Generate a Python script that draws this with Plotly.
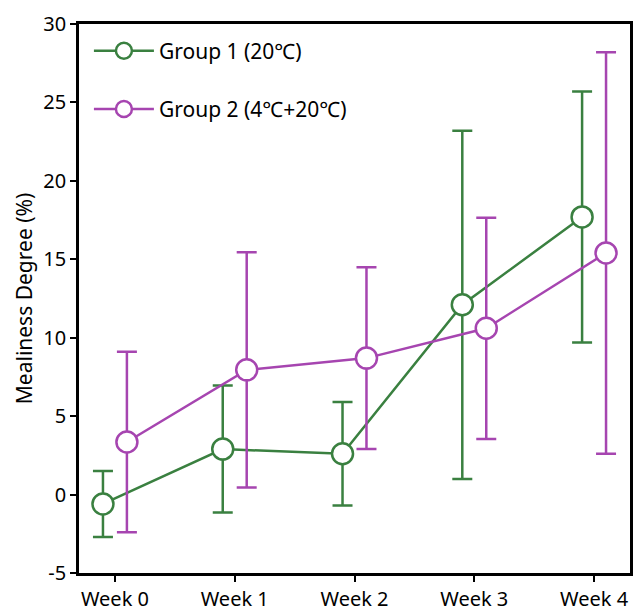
import plotly.graph_objects as go

weeks = ["Week 0", "Week 1", "Week 2", "Week 3", "Week 4"]
g1_mean = [-0.6, 2.9, 2.6, 12.1, 17.7]
g1_err = [2.1, 4.05, 3.3, 11.1, 8.0]
g2_mean = [3.35, 7.95, 8.7, 10.6, 15.4]
g2_err = [5.75, 7.5, 5.8, 7.05, 12.8]
y_ticks = [-5, 0, 5, 10, 15, 20, 25, 30]
y_labels = ["-5", "0", "5", "10", "15", "20", "25", "30"]

green = "#3A8040"
purple = "#A645B0"
offset = 0.1
idx = list(range(len(weeks)))

fig = go.Figure()
for name, mean, err, col, sgn in [
    ("Group 1 (20℃)", g1_mean, g1_err, green, -1),
    ("Group 2 (4℃+20℃)", g2_mean, g2_err, purple, 1),
]:
    fig.add_trace(go.Scatter(
        x=[i + sgn * offset for i in idx], y=mean, name=name, legendgroup=name,
        mode="lines+markers",
        line=dict(color=col, width=2.5),
        marker=dict(symbol="circle", size=21, color="white", line=dict(color=col, width=2.5)),
        error_y=dict(type="data", array=err, visible=True, color=col, thickness=2.5, width=10),
    ))

fig.update_layout(
    width=635, height=614,
    margin=dict(l=79, r=2, t=24, b=37),
    paper_bgcolor="white", plot_bgcolor="white",
    font=dict(family="Noto Sans", size=20, color="black"),
    showlegend=True,
    legend=dict(x=0.018, y=0.988, xanchor="left", yanchor="top", bgcolor="rgba(0,0,0,0)",
                tracegroupgap=28, itemwidth=60, font=dict(size=21)),
    xaxis=dict(range=[-0.3, 4.3], tickvals=idx, ticktext=weeks, showgrid=False, zeroline=False,
               showline=True, linecolor="black", linewidth=2.5, mirror=True,
               ticks="outside", ticklen=6, tickwidth=2, tickcolor="black"),
    yaxis=dict(range=[-5, 30], tickvals=y_ticks, ticktext=y_labels, showgrid=False, zeroline=False,
               showline=True, linecolor="black", linewidth=2.5, mirror=True,
               ticks="outside", ticklen=6, tickwidth=2, tickcolor="black",
               title=dict(text="Mealiness Degree (%)", standoff=6, font=dict(size=21))),
)
fig.write_html("out.html")
